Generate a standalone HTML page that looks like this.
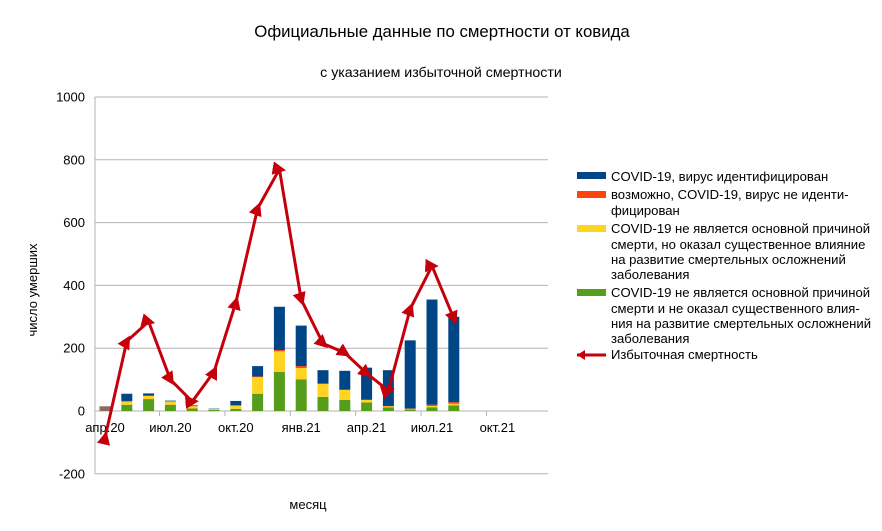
<!DOCTYPE html>
<html><head><meta charset="utf-8"><style>
html,body{margin:0;padding:0;background:#fff;}
svg{display:block;font-family:"Liberation Sans",sans-serif;}
</style></head><body>
<svg id="c" width="882" height="531" viewBox="0 0 882 531" xmlns="http://www.w3.org/2000/svg">
<defs>
<marker id="tri" viewBox="0 0 10 10" refX="5" refY="5" markerWidth="4.5" markerHeight="4.5" markerUnits="strokeWidth" orient="auto">
<path d="M0,0 L10,5 L0,10 z" fill="#c5000b"/>
</marker>
</defs>
<text x="442" y="37" font-size="16.8" text-anchor="middle" fill="#000">Официальные данные по смертности от ковида</text>
<text x="441" y="77" font-size="14.2" text-anchor="middle" fill="#000">с указанием избыточной смертности</text>
<text transform="translate(37,290) rotate(-90)" font-size="13" text-anchor="middle">число умерших</text>
<text x="308" y="509" font-size="13" text-anchor="middle">месяц</text>
<g id="grid"></g>
<g id="bars"></g>
<g id="line"></g>
<g font-size="13.1" fill="#000">
<rect x="577" y="172" width="29" height="7" fill="#004586"/>
<text x="611" y="181">COVID-19, вирус идентифицирован</text>
<rect x="577" y="191" width="29" height="7" fill="#ff420e"/>
<text x="611" y="199">возможно, COVID-19, вирус не иденти-</text>
<text x="611" y="215">фицирован</text>
<rect x="577" y="225" width="29" height="7" fill="#ffd320"/>
<text x="611" y="233">COVID-19 не является основной причиной</text>
<text x="611" y="249">смерти, но оказал существенное влияние</text>
<text x="611" y="264">на развитие смертельных осложнений</text>
<text x="611" y="279">заболевания</text>
<rect x="577" y="289" width="29" height="7" fill="#579d1c"/>
<text x="611" y="297">COVID-19 не является основной причиной</text>
<text x="611" y="313">смерти и не оказал существенного влия-</text>
<text x="611" y="328">ния на развитие смертельных осложнений</text>
<text x="611" y="343">заболевания</text>
<line x1="577" y1="355" x2="606" y2="355" stroke="#c5000b" stroke-width="3"/>
<path d="M585,350 L585,360 L577,355z" fill="#c5000b"/>
<text x="611" y="359">Избыточная смертность</text>
</g>
</svg>
<script>
var NS="http://www.w3.org/2000/svg";
function el(t,a,p){var e=document.createElementNS(NS,t);for(var k in a)e.setAttribute(k,a[k]);p.appendChild(e);return e;}
function Y(v){return 411-v*0.314;}
var g=document.getElementById('grid');
for(var v=-200;v<=1000;v+=200){
  var y=Y(v);
  el('line',{x1:95,x2:548,y1:y,y2:y,stroke:'#b3b3b3','stroke-width':1},g);
  var t=el('text',{x:85,y:y+4.5,'font-size':13,'text-anchor':'end'},g);t.textContent=v;
}
el('line',{x1:95,x2:95,y1:97,y2:474,stroke:'#b3b3b3'},g);
var cw=21.8,x0=105;
for(var i=1;i<=6;i++){var tx=x0+cw*(3*i)-cw/2; el('line',{x1:tx,x2:tx,y1:411,y2:416,stroke:'#b3b3b3'},g);}
var labs=['апр.20','июл.20','окт.20','янв.21','апр.21','июл.21','окт.21'];
for(var i=0;i<7;i++){var t=el('text',{x:x0+cw*3*i,y:432,'font-size':13,'text-anchor':'middle'},g);t.textContent=labs[i];}
var B=[[5,3,3,4],[20,10,2,23],[38,10,1,7],[20,10,1,2],[8,7,1,2],[4,3,0,1],[7,10,1,14],[55,53,2,33],[125,65,4,138],[101,36,6,129],[45,41,2,42],[35,32,1,60],[27,8,1,102],[12,3,1,114],[5,2,1,217],[12,4,4,335],[18,5,5,272]];
var cols=['#579d1c','#ffd320','#ff420e','#004586'];
var bg=document.getElementById('bars');
for(var i=0;i<B.length;i++){var cx=x0+cw*i,acc=0;
  if(i==0){el('rect',{x:cx-5.5,y:Y(15),width:11,height:15*0.314,fill:'#8a6d5a'},bg);continue;}
  for(var j=0;j<4;j++){var h=B[i][j];if(!h)continue;
    el('rect',{x:cx-5.5,y:Y(acc+h),width:11,height:h*0.314,fill:cols[j]},bg);acc+=h;}
}
var L=[-85,222,285,100,30,125,345,645,770,355,215,185,120,65,325,462,295];
var pts=L.map(function(v,i){return (x0+cw*i).toFixed(1)+','+Y(v).toFixed(1);}).join(' ');
var lg=document.getElementById('line');
el('polyline',{points:pts,fill:'none',stroke:'#c5000b','stroke-width':3,'stroke-linejoin':'round','marker-start':'url(#tri)','marker-mid':'url(#tri)','marker-end':'url(#tri)'},lg);
</script>
</body></html>
